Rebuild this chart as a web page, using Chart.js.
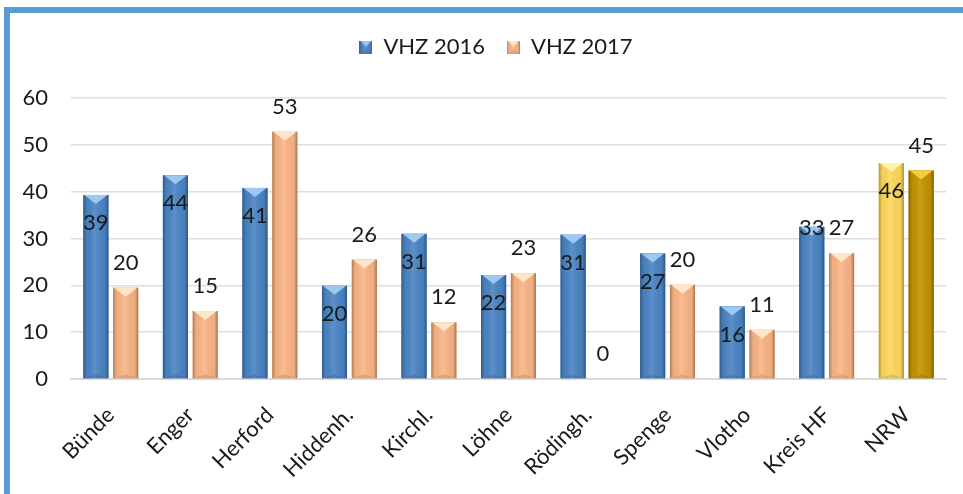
<!DOCTYPE html>
<html>
<head>
<meta charset="utf-8">
<script src="https://cdn.jsdelivr.net/npm/chart.js@4/dist/chart.umd.min.js"></script>
<style>
html, body { margin: 0; padding: 0; background: #fff; overflow: hidden; }
#frame { position: absolute; left: 4px; top: 7px; width: 990px; height: 520px;
  border-top: 6px solid #5b9bd5; border-left: 6px solid #5b9bd5; }
#c { position: absolute; left: 0; top: 0; }
</style>
</head>
<body>
<div id="frame"></div>
<canvas id="c" width="963" height="494"></canvas>
<script>
// data
var categories = ['Bünde', 'Enger', 'Herford', 'Hiddenh.', 'Kirchl.', 'Löhne',
  'Rödingh.', 'Spenge', 'Vlotho', 'Kreis HF', 'NRW'];
var vhz2016 = [39.3, 43.5, 40.8, 19.9, 31.0, 22.2, 30.8, 26.8, 15.5, 32.5, 46.1];
var vhz2017 = [19.5, 14.5, 52.8, 25.5, 12.1, 22.6, 0, 20.1, 10.5, 26.9, 44.5];
var seriesNames = ['VHZ 2016', 'VHZ 2017'];
var yMax = 60, yStep = 10;

var FONT = 'Lato';
var TEXT = '#1a1a1a';
var colors = {
  blue:   { base: '#4a84c4', light: '#9cc8f2' },
  orange: { base: '#fab585', light: '#fee6c8' },
  yellow: { base: '#fed85c', light: '#fff2a6' },
  gold:   { base: '#c29400', light: '#f2cf3c' }
};
var lightByBase = {};
Object.keys(colors).forEach(function (k) { lightByBase[colors[k].base] = colors[k].light; });

function paintBar(ctx, l, y, w, h, base) {
  var r = l + w, x = l + w / 2;
  ctx.fillStyle = base;
  ctx.fillRect(l, y, w, h);
  var g = ctx.createLinearGradient(l, 0, r, 0);
  g.addColorStop(0, 'rgba(0,0,0,0.30)');
  g.addColorStop(0.14, 'rgba(0,0,0,0.04)');
  g.addColorStop(0.45, 'rgba(255,255,255,0.10)');
  g.addColorStop(0.86, 'rgba(0,0,0,0.04)');
  g.addColorStop(1, 'rgba(0,0,0,0.34)');
  ctx.fillStyle = g;
  ctx.fillRect(l, y, w, h);
  var bh = Math.min(9, h / 2);
  ctx.fillStyle = lightByBase[base] || '#fff';
  ctx.beginPath();
  ctx.moveTo(l + 1, y); ctx.lineTo(r - 1, y); ctx.lineTo(x, y + bh); ctx.closePath();
  ctx.fill();
  ctx.fillStyle = 'rgba(0,0,0,0.10)';
  var bb = Math.min(4, h / 3);
  ctx.beginPath();
  ctx.moveTo(l + 1, y + h); ctx.lineTo(r - 1, y + h); ctx.lineTo(x, y + h - bb); ctx.closePath();
  ctx.fill();
}

function legendIcon(base) {
  var cv = document.createElement('canvas');
  cv.width = 13; cv.height = 13;
  paintBar(cv.getContext('2d'), 0, 0, 13, 13, base);
  return cv;
}

var barLook = {
  id: 'barLook',
  beforeUpdate: function (chart) {
    var lg = chart.legend;
    if (lg && !lg._patched) {
      var fit = lg.fit;
      lg.fit = function () { fit.call(this); this.height = 98 - 14; };
      lg._patched = true;
    }
  },
  afterLayout: function (chart) {
    // the legend sits a bit right of the canvas centre in the reference
    chart.legend.left += 23;
    chart.legend.right += 23;
  },
  afterDatasetsDraw: function (chart) {
    var ctx = chart.ctx;
    ctx.save();
    chart.data.datasets.forEach(function (ds, di) {
      chart.getDatasetMeta(di).data.forEach(function (bar, i) {
        var p = bar.getProps(['x', 'y', 'base', 'width'], true);
        var h = p.base - p.y;
        if (h >= 1) paintBar(ctx, p.x - p.width / 2, p.y, p.width, h, ds.backgroundColor[i]);
      });
    });
    // value labels: first series inside the bar, second above it
    ctx.font = '22px ' + FONT;
    ctx.fillStyle = TEXT;
    ctx.textAlign = 'center';
    ctx.textBaseline = 'middle';
    chart.data.datasets.forEach(function (ds, di) {
      chart.getDatasetMeta(di).data.forEach(function (bar, i) {
        var txt = String(Math.round(ds.data[i]));
        var y;
        if (di === 0) y = bar.y + (categories[i] === 'Kreis HF' ? 1 : 28);
        else y = bar.y - 25;
        ctx.fillText(txt, bar.x, y);
      });
    });
    ctx.restore();
  }
};

var ctx = document.getElementById('c').getContext('2d');
var chart = new Chart(ctx, {
  type: 'bar',
  data: {
    labels: categories,
    datasets: [{
      label: seriesNames[0],
      data: vhz2016,
      backgroundColor: categories.map(function (c) { return c === 'NRW' ? colors.yellow.base : colors.blue.base; }),
      pointStyle: legendIcon(colors.blue.base),
      borderWidth: 0
    }, {
      label: seriesNames[1],
      data: vhz2017,
      backgroundColor: categories.map(function (c) { return c === 'NRW' ? colors.gold.base : colors.orange.base; }),
      pointStyle: legendIcon(colors.orange.base),
      borderWidth: 0
    }]
  },
  options: {
    responsive: false,
    animation: false,
    events: [],
    layout: { padding: { top: 14, right: 17, left: 0, bottom: 0 } },
    datasets: { bar: { categoryPercentage: 0.75, barPercentage: 0.84 } },
    plugins: {
      tooltip: { enabled: false },
      legend: {
        position: 'top',
        labels: {
          usePointStyle: true,
          pointStyleWidth: 13,
          color: TEXT,
          font: { family: FONT, size: 22 },
          padding: 22
        }
      }
    },
    scales: {
      x: {
        grid: { display: false },
        border: { color: '#d9d9d9', width: 2 },
        ticks: {
          color: TEXT,
          font: { family: FONT, size: 22 },
          maxRotation: 45, minRotation: 45,
          padding: 15
        },
        afterFit: function (s) { s.height = 494 - 379; }
      },
      y: {
        min: 0, max: yMax,
        grid: { color: '#dedede', lineWidth: 1.5, drawTicks: false },
        border: { display: false },
        ticks: {
          stepSize: yStep,
          color: TEXT,
          font: { family: FONT, size: 22 },
          padding: 23
        },
        afterFit: function (s) { s.width = 71; }
      }
    }
  },
  plugins: [barLook]
});
</script>
</body>
</html>
